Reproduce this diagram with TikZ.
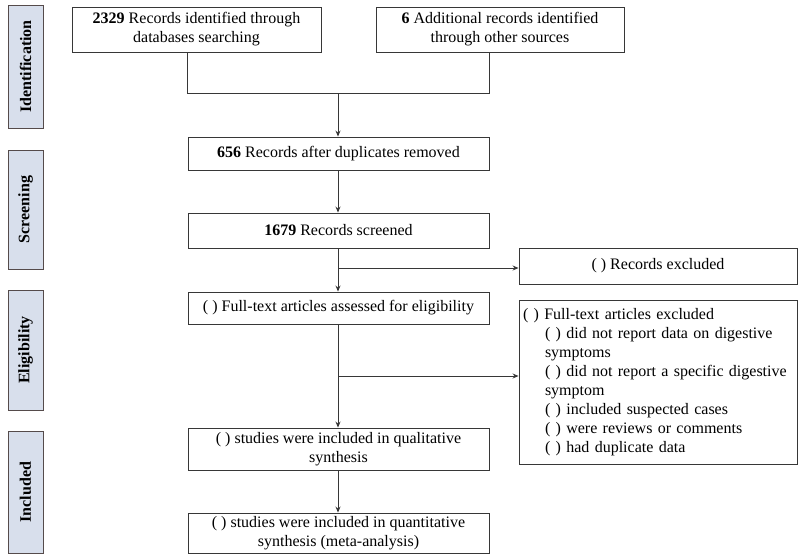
\documentclass[tikz,border=0pt]{standalone}
\usepackage{fontspec}
\setmainfont{Liberation Serif}
\usetikzlibrary{positioning,arrows.meta,calc}
\definecolor{phasefill}{RGB}{216,223,236}
\definecolor{phasedraw}{RGB}{85,75,75}
\definecolor{linegray}{RGB}{55,55,55}
\tikzset{
  box/.style   = {rectangle, draw=linegray, line width=0.9pt,
                  align = center, inner sep=2pt,
                  font = \fontsize{16}{19}\selectfont},
  flow/.style  = {box, minimum width = 301pt},
  side/.style  = {rectangle, draw=phasedraw, line width=1pt, fill=phasefill,
                  rotate=90, minimum height=35pt,
                  font=\fontsize{16}{19}\selectfont\bfseries},
  arr/.style   = {-{Stealth[length=6pt,width=5pt]}, draw=linegray, line width=0.9pt},
  link/.style  = {draw=linegray, line width=0.9pt}
}

\begin{document}
\begin{tikzpicture}[x=1pt,y=-1pt]
    \useasboundingbox (0,0) rectangle (800,558);
    % phase labels on the left
    \node[side,minimum width=123pt] (phid)   at (25.5,66.5) {Identification};
    \node[side,minimum width=119pt] (phscr)  at (25.5,209.5) {Screening};
    \node[side,minimum width=120pt] (phelig) at (25.5,350)  {Eligibility};
    \node[side,minimum width=122pt] (phincl) at (25.5,492)  {Included};
    % identification
    \node[box,minimum width=249pt,minimum height=45pt] (dbrec) at (196.5,29.5)
      {\textbf{2329} Records identified through\\databases searching};
    \node[box,minimum width=248pt,minimum height=45pt] (otherrec) at (500,29.5)
      {\textbf{6} Additional records identified\\through other sources};
    % main column
    \node[flow,minimum height=33pt] (dup)   at (338.5,153.5)
      {\textbf{656} Records after duplicates removed};
    \node[flow,minimum height=35pt] (scr)   at (338.5,230.5)
      {\textbf{1679} Records screened};
    \node[flow,minimum height=32pt] (full)  at (338.5,308)
      {( ) Full-text articles assessed for eligibility};
    \node[flow,minimum height=42pt] (qual)  at (338.5,449)
      {( ) studies were included in qualitative\\synthesis};
    \node[flow,minimum height=40pt] (quant) at (338.5,533)
      {( ) studies were included in quantitative\\synthesis (meta-analysis)};
    % exclusions on the right
    \node[box,minimum width=278pt,minimum height=36pt] (recexcl) at (658,266)
      {( ) Records excluded};
    \node[box,minimum width=278pt,minimum height=164pt,text width=270pt,
          align=left] (fullexcl) at (658,382)
      {( ) Full-text articles excluded\\
       \hspace*{22pt}( ) did not report data on digestive\\
       \hspace*{22pt}symptoms\\
       \hspace*{22pt}( ) did not report a specific digestive\\
       \hspace*{22pt}symptom\\
       \hspace*{22pt}( ) included suspected cases\\
       \hspace*{22pt}( ) were reviews or comments\\
       \hspace*{22pt}( ) had duplicate data};
    % connectors
    \coordinate (join) at (338,93);
    \coordinate (br1)  at (338,268);
    \coordinate (br2)  at (338,376);
    \draw[link] (dup.west |- dbrec.south) -- (dup.west |- join)
      -- (dup.east |- join) -- (dup.east |- otherrec.south);
    \draw[arr] (join) -- (join |- dup.north);
    \draw[arr] (join |- dup.south) -- (join |- scr.north);
    \draw[arr] (join |- scr.south) -- (join |- full.north);
    \draw[arr] (br1) -- (br1 -| recexcl.west);
    \draw[arr] (join |- full.south) -- (join |- qual.north);
    \draw[arr] (br2) -- (br2 -| fullexcl.west);
    \draw[arr] (join |- qual.south) -- (join |- quant.north);
\end{tikzpicture}
\end{document}
